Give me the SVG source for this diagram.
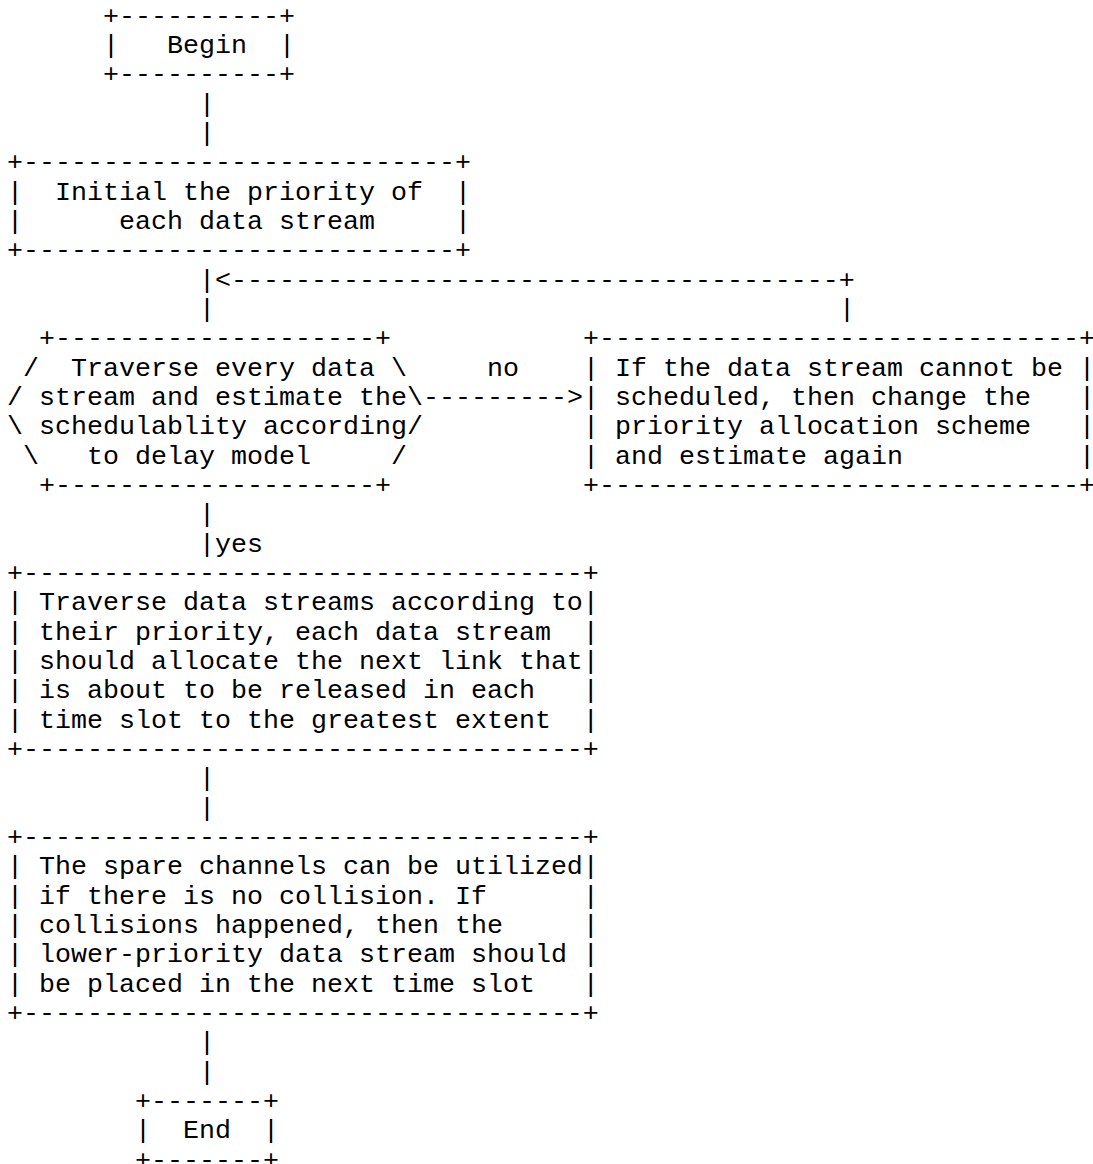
<svg xmlns="http://www.w3.org/2000/svg" width="1093" height="1164" viewBox="0 0 1093 1164" xml:space="preserve">
  <style>
    text { font-family: "Liberation Mono", "Courier New", monospace; font-size: 26.67px; fill: #000; white-space: pre; }
  </style>
  <rect width="1093" height="1164" fill="#fff"/>

  <!-- character grid: column c starts at x = 7 + 16c, row n baseline at y = 23.7 + 29.33(n-1) -->

  <g id="node-begin">
    <text x="103" y="23.7">+----------+</text>
    <text x="103" y="53.0">|   Begin  |</text>
    <text x="103" y="82.4">+----------+</text>
  </g>

  <g id="node-init-priority">
    <text x="7" y="170.4">+---------------------------+</text>
    <text x="7" y="199.7">|  Initial the priority of  |</text>
    <text x="7" y="229.0">|      each data stream     |</text>
    <text x="7" y="258.3">+---------------------------+</text>
  </g>

  <g id="node-schedulability-check">
    <text x="39" y="346.3">+--------------------+</text>
    <text x="23" y="375.7">/  Traverse every data \</text>
    <text x="7" y="405.0">/ stream and estimate the\</text>
    <text x="7" y="434.3">\ schedulablity according/</text>
    <text x="23" y="463.7">\   to delay model     /</text>
    <text x="39" y="493.0">+--------------------+</text>
  </g>

  <g id="node-change-priority">
    <text x="583" y="346.3">+------------------------------+</text>
    <text x="583" y="375.7">| If the data stream cannot be |</text>
    <text x="583" y="405.0">| scheduled, then change the   |</text>
    <text x="583" y="434.3">| priority allocation scheme   |</text>
    <text x="583" y="463.7">| and estimate again           |</text>
    <text x="583" y="493.0">+------------------------------+</text>
  </g>

  <g id="node-allocate-links">
    <text x="7" y="581.0">+-----------------------------------+</text>
    <text x="7" y="610.3">| Traverse data streams according to|</text>
    <text x="7" y="639.6">| their priority, each data stream  |</text>
    <text x="7" y="669.0">| should allocate the next link that|</text>
    <text x="7" y="698.3">| is about to be released in each   |</text>
    <text x="7" y="727.6">| time slot to the greatest extent  |</text>
    <text x="7" y="757.0">+-----------------------------------+</text>
  </g>

  <g id="node-spare-channels">
    <text x="7" y="845.0">+-----------------------------------+</text>
    <text x="7" y="874.3">| The spare channels can be utilized|</text>
    <text x="7" y="903.6">| if there is no collision. If      |</text>
    <text x="7" y="933.0">| collisions happened, then the     |</text>
    <text x="7" y="962.3">| lower-priority data stream should |</text>
    <text x="7" y="991.6">| be placed in the next time slot   |</text>
    <text x="7" y="1021.0">+-----------------------------------+</text>
  </g>

  <g id="node-end">
    <text x="135" y="1109.0">+-------+</text>
    <text x="135" y="1138.3">|  End  |</text>
    <text x="135" y="1167.6">+-------+</text>
  </g>

  <g id="connectors">
    <text x="199" y="111.7">|</text>
    <text x="199" y="141.0">|</text>
    <text x="199" y="287.7">|&lt;--------------------------------------+</text>
    <text x="199" y="317.0">|</text>
    <text x="839" y="317.0">|</text>
    <text x="487" y="375.7">no</text>
    <text x="423" y="405.0">---------&gt;</text>
    <text x="199" y="522.3">|</text>
    <text x="199" y="551.7">|yes</text>
    <text x="199" y="786.3">|</text>
    <text x="199" y="815.6">|</text>
    <text x="199" y="1050.3">|</text>
    <text x="199" y="1079.6">|</text>
  </g>
</svg>
